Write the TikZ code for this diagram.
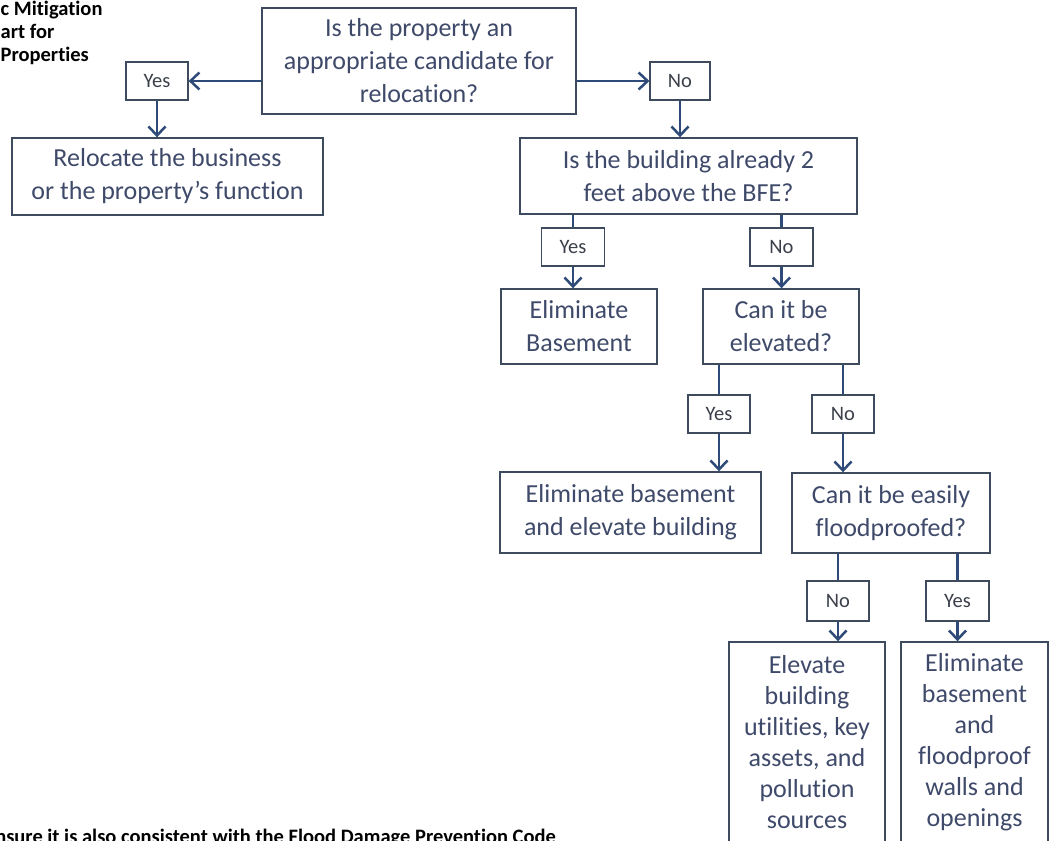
\documentclass[tikz,border=0pt]{standalone}
\usepackage{fontspec}
\setmainfont{Carlito}[Ligatures=CommonOff]
\usetikzlibrary{arrows.meta}
\definecolor{boxc}{HTML}{3E4A5E}
\definecolor{linec}{HTML}{2E4A78}
\definecolor{txtc}{HTML}{3F4A6A}
\definecolor{lblc}{HTML}{3A3F4A}
\tikzset{
  box/.style={draw=boxc, line width=1.4pt, text=txtc, align=center, inner sep=0pt,
    font=\fontsize{26}{33}\selectfont},
  tallbox/.style={box, font=\fontsize{26}{31}\selectfont},
  lbl/.style={draw=boxc, line width=1.2pt, text=lblc, align=center, inner sep=0pt,
    font=\fontsize{20.5}{24}\selectfont},
  conn/.style={draw=linec, line width=2.5pt},
  arr/.style={conn, -{Straight Barb[length=9pt,width=17pt,line width=2.5pt]}},
  note/.style={font=\fontsize{20.5}{23}\selectfont\bfseries, text=black, inner sep=0pt, align=left}
}
\begin{document}
\begin{tikzpicture}[x=1pt,y=-1pt]
\useasboundingbox (0,0) rectangle (1051,840);
\clip (0,0) rectangle (1051,840);
\fill[white] (0,0) rectangle (1051,840);

% title (as much as the reference shows)
\node[note, anchor=north west] (title) at (0.5,1) {c Mitigation\\art for\\Properties};

% nodes
\node[box, minimum width=314pt, minimum height=106pt] (q1) at (419,61)
  {Is the property an\\appropriate candidate for\\relocation?};
\node[lbl, minimum width=62pt, minimum height=38pt] (y1) at (157,81) {Yes};
\node[box, minimum width=311pt, minimum height=77pt] (r1) at (167.5,176.5)
  {Relocate the business\\or the property’s function};
\node[lbl, minimum width=60pt, minimum height=38pt] (n1) at (680,81) {No};
\node[box, minimum width=337pt, minimum height=76pt] (q2) at (688.5,176)
  {Is the building already 2\\feet above the BFE?};
\node[lbl, minimum width=63pt, minimum height=38pt] (y2) at (573,247) {Yes};
\node[lbl, minimum width=63pt, minimum height=38pt] (n2) at (781.5,247) {No};
\node[box, minimum width=156pt, minimum height=75pt] (e1) at (579,326.5)
  {Eliminate\\Basement};
\node[box, minimum width=156pt, minimum height=75pt] (q3) at (781,326.5)
  {Can it be\\elevated?};
\node[lbl, minimum width=62pt, minimum height=38pt] (y3) at (719,414) {Yes};
\node[lbl, minimum width=62pt, minimum height=38pt] (n3) at (843,414) {No};
\node[box, minimum width=261pt, minimum height=81pt] (e2) at (630.5,512.5)
  {Eliminate basement\\and elevate building};
\node[box, minimum width=198pt, minimum height=80pt] (q4) at (891,513)
  {Can it be easily\\floodproofed?};
\node[lbl, minimum width=62pt, minimum height=40pt] (n4) at (838,601) {No};
\node[lbl, minimum width=63pt, minimum height=40pt] (y4) at (957.5,601) {Yes};
\node[tallbox, minimum width=156pt, minimum height=201pt] (e3) at (807,742.5)
  {Elevate\\building\\utilities, key\\assets, and\\pollution\\sources};
\node[tallbox, minimum width=147pt, minimum height=201pt] (e4) at (974.5,742.5)
  {Eliminate\\basement\\and\\floodproof\\walls and\\openings};

% footnote (clipped at the bottom, as in the reference)
\node[note, anchor=base east] (foot) at (556,843)
  {Ensure it is also consistent with the Flood Damage Prevention Code};

% connectors
\draw[arr] (q1.west |- y1.east) -- (y1.east);
\draw[arr] (q1.east |- n1.west) -- (n1.west);
\draw[arr] (y1.south) -- (y1.south |- r1.north);
\draw[arr] (n1.south) -- (n1.south |- q2.north);

\draw[conn] (y2.north |- q2.south) -- (y2.north);
\draw[arr] (y2.south) -- (y2.south |- e1.north);
\draw[conn] (n2.north |- q2.south) -- (n2.north);
\draw[arr] (n2.south) -- (n2.south |- q3.north);

\draw[conn] (y3.north |- q3.south) -- (y3.north);
\draw[arr] (y3.south) -- (y3.south |- e2.north);
\draw[conn] (n3.north |- q3.south) -- (n3.north);
\draw[arr] (n3.south) -- (n3.south |- q4.north);

\draw[conn] (n4.north |- q4.south) -- (n4.north);
\draw[arr] (n4.south) -- (n4.south |- e3.north);
\draw[conn] (y4.north |- q4.south) -- (y4.north);
\draw[arr] (y4.south) -- (y4.south |- e4.north);
\end{tikzpicture}
\end{document}
